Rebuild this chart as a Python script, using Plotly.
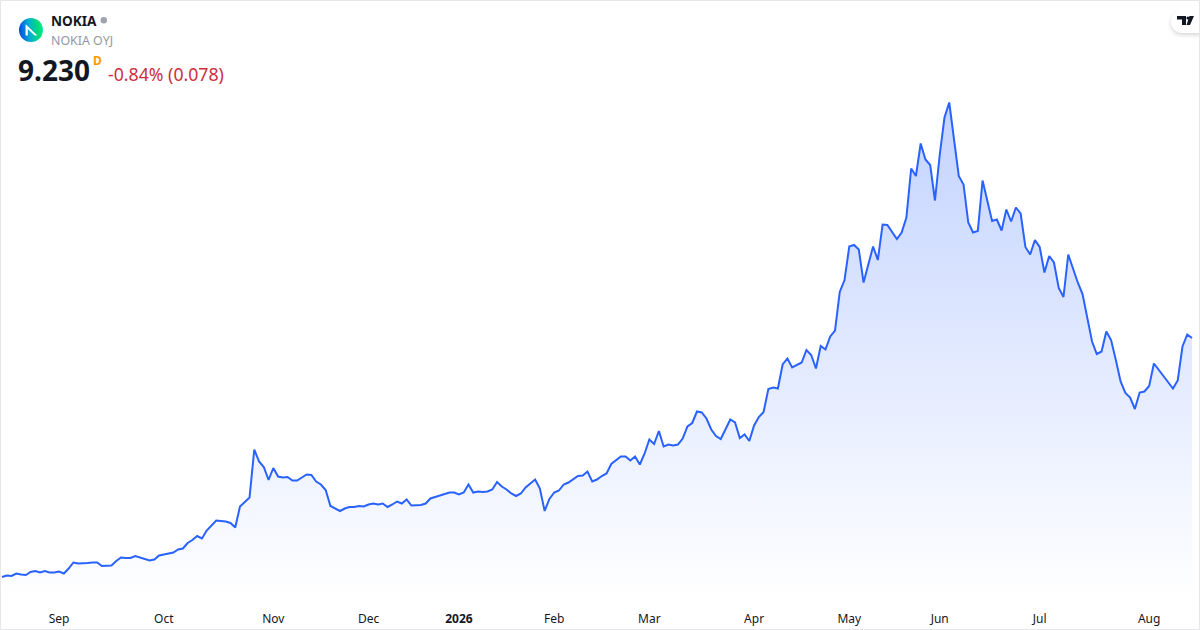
import base64
import plotly.graph_objects as go

# daily closes
prices = [
    4.45, 4.48, 4.47, 4.52, 4.50, 4.49, 4.55, 4.57, 4.54, 4.57,
    4.54, 4.54, 4.56, 4.52, 4.62, 4.74, 4.72, 4.72, 4.73, 4.74,
    4.74, 4.67, 4.68, 4.68, 4.77, 4.84, 4.83, 4.83, 4.87, 4.84,
    4.82, 4.78, 4.80, 4.88, 4.90, 4.92, 4.94, 5.00, 5.02, 5.13,
    5.19, 5.27, 5.22, 5.38, 5.47, 5.58, 5.57, 5.56, 5.53, 5.44,
    5.86, 5.95, 6.04, 7.00, 6.76, 6.65, 6.39, 6.63, 6.46, 6.44,
    6.45, 6.38, 6.38, 6.44, 6.50, 6.49, 6.36, 6.30, 6.19, 5.87,
    5.82, 5.77, 5.82, 5.85, 5.85, 5.87, 5.86, 5.90, 5.92, 5.90,
    5.92, 5.85, 5.90, 5.96, 5.92, 6.00, 5.88, 5.89, 5.89, 5.92,
    6.02, 6.05, 6.08, 6.10, 6.14, 6.14, 6.10, 6.14, 6.30, 6.14,
    6.16, 6.15, 6.16, 6.20, 6.35, 6.26, 6.20, 6.12, 6.07, 6.12,
    6.24, 6.32, 6.40, 6.22, 5.77, 6.01, 6.14, 6.18, 6.30, 6.34,
    6.41, 6.47, 6.48, 6.56, 6.36, 6.40, 6.47, 6.52, 6.71, 6.79,
    6.86, 6.86, 6.78, 6.86, 6.70, 6.92, 7.20, 7.11, 7.37, 7.06,
    7.10, 7.08, 7.10, 7.22, 7.46, 7.53, 7.76, 7.74, 7.62, 7.40,
    7.27, 7.21, 7.39, 7.60, 7.54, 7.23, 7.30, 7.17, 7.48, 7.65,
    7.75, 8.21, 8.24, 8.22, 8.70, 8.82, 8.64, 8.69, 8.74, 8.99,
    8.89, 8.62, 9.07, 9.00, 9.26, 9.38, 10.15, 10.39, 11.06, 11.09,
    11.00, 10.34, 10.69, 11.06, 10.79, 11.50, 11.49, 11.34, 11.21, 11.34,
    11.64, 12.62, 12.47, 13.12, 12.80, 12.69, 11.98, 12.89, 13.64, 13.94,
    13.22, 12.47, 12.30, 11.54, 11.34, 11.37, 12.38, 11.99, 11.57, 11.60,
    11.38, 11.80, 11.56, 11.84, 11.72, 11.05, 10.90, 11.19, 11.05, 10.54,
    10.87, 10.74, 10.23, 10.05, 10.90, 10.62, 10.34, 10.11, 9.66, 9.16,
    8.91, 8.96, 9.36, 9.19, 8.79, 8.36, 8.13, 8.04, 7.81, 8.14,
    8.16, 8.27, 8.72, 8.59, 8.48, 8.34, 8.22, 8.38, 9.06, 9.30,
    9.23,
]
bars = list(range(len(prices)))

month_bars = [12, 34, 57, 77, 96, 116, 136, 158, 178, 197, 218, 241]
month_labels = ["Sep", "Oct", "Nov", "Dec", "<b>2026</b>", "Feb", "Mar", "Apr",
                "May", "Jun", "Jul", "Aug"]

W = 1200
H = 630
FONT = "Noto Sans"


def px(x):
    return x / W


def py(y):
    return 1 - y / H


def svg_uri(svg):
    return "data:image/svg+xml;base64," + base64.b64encode(svg.encode()).decode()


logo_svg = """<svg xmlns="http://www.w3.org/2000/svg" width="96" height="96" viewBox="0 0 24 24">
<defs><linearGradient id="g" x1="0" y1="0.7" x2="1" y2="0.6">
<stop offset="0" stop-color="#0646e0"/><stop offset="0.45" stop-color="#00b0d0"/>
<stop offset="0.85" stop-color="#00e070"/><stop offset="1" stop-color="#10e8a0"/></linearGradient></defs>
<circle cx="12" cy="12" r="12" fill="url(#g)"/>
<path d="M6.6 17.6 V6.2 L18.4 17.4 H15.6 L8.8 11 V17.6 Z" fill="#fff"/>
</svg>"""

badge_svg = """<svg xmlns="http://www.w3.org/2000/svg" width="160" height="160" viewBox="0 0 40 40">
<defs><filter id="s" x="-50%" y="-50%" width="200%" height="200%"><feGaussianBlur stdDeviation="2"/></filter></defs>
<rect x="7" y="2" width="50" height="23" rx="11" fill="#000" opacity="0.16" filter="url(#s)"/>
<rect x="7" y="0" width="50" height="23" rx="11" fill="#fff"/>
<path d="M13 6 H22 V15 H18 V9.5 H13 Z M25.5 6 H30 L26 15 H22.5 Z" fill="#131722"/>
<circle cx="24" cy="8" r="1.6" fill="#131722"/>
</svg>"""

fig = go.Figure()
fig.add_trace(go.Scatter(
    x=bars,
    y=prices,
    mode="lines",
    line=dict(color="#2962FF", width=2),
    fill="tozeroy",
    fillcolor="rgba(41,98,255,0.1)",
    fillgradient=dict(
        type="vertical",
        start=13.94,
        stop=3.99,
        colorscale=[[0, "rgba(41,98,255,0.28)"], [1, "rgba(41,98,255,0)"]],
    ),
    hoverinfo="skip",
    showlegend=False,
))

texts = [
    dict(text="<b>NOKIA</b>", x=49, y=21, size=13.6, color="#131722"),
    dict(text="NOKIA OYJ", x=49, y=41, size=12.4, color="#9598a1"),
    dict(text="<b>9.230</b>", x=16, y=70, size=28, color="#131722"),
    dict(text="<b>D</b>", x=91, y=61, size=12, color="#ff9800"),
    dict(text="-0.84% (0.078)", x=106, y=74, size=17.7, color="#cc2f3c"),
]
annotations = [
    dict(text=t["text"], x=px(t["x"]), y=py(t["y"]), xref="paper", yref="paper",
         xanchor="left", yanchor="middle", showarrow=False,
         font=dict(family=FONT, size=t["size"], color=t["color"]))
    for t in texts
]

shapes = [
    # status dot next to the name
    dict(type="circle", xref="paper", yref="paper", x0=px(100.5), x1=px(107),
         y0=py(23.5), y1=py(17), fillcolor="#a0a3ab", line=dict(width=0)),
    # card border
    dict(type="rect", xref="paper", yref="paper", x0=px(0.5), x1=px(1199.5),
         y0=py(629.5), y1=py(0.5), fillcolor="rgba(0,0,0,0)",
         line=dict(color="#e6e7ea", width=1)),
]

images = [
    dict(source=svg_uri(logo_svg), xref="paper", yref="paper", x=px(19), y=py(18),
         sizex=px(24), sizey=24 / H, xanchor="left", yanchor="top", layer="above"),
    dict(source=svg_uri(badge_svg), xref="paper", yref="paper", x=px(1164), y=py(10),
         sizex=px(40), sizey=40 / H, xanchor="left", yanchor="top", layer="above"),
]

fig.update_layout(
    width=W,
    height=H,
    margin=dict(l=0, r=0, t=0, b=0),
    paper_bgcolor="#ffffff",
    plot_bgcolor="#ffffff",
    annotations=annotations,
    shapes=shapes,
    images=images,
    xaxis=dict(
        range=[-0.42, 251.68],
        tickmode="array",
        tickvals=month_bars,
        ticktext=month_labels,
        ticklabelstandoff=10,
        showgrid=False,
        zeroline=False,
        showline=False,
        ticks="",
        automargin=False,
        tickfont=dict(family=FONT, size=12, color="#131722"),
    ),
    yaxis=dict(
        domain=[30 / H, 1],
        range=[3.99, 15.99],
        visible=False,
        fixedrange=True,
    ),
)

# page body has a default margin, drop it so the card fills the window
fig.write_html("out.html", config={"displayModeBar": False},
               post_script="document.body.style.margin='0';")
